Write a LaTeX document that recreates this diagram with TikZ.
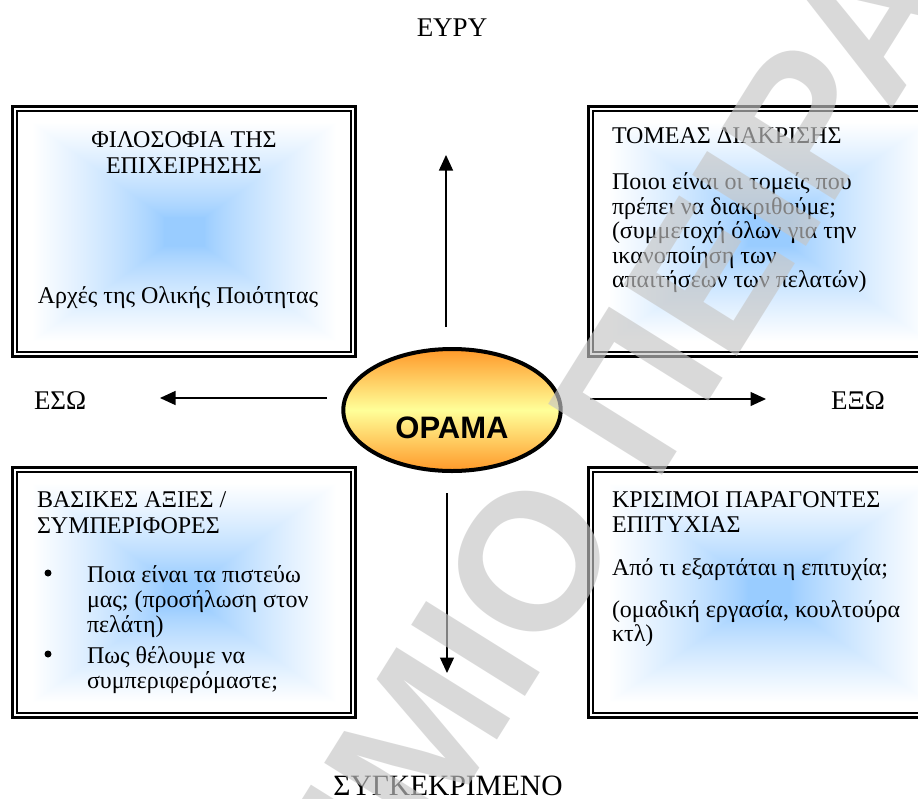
\documentclass[tikz,border=0pt]{standalone}
\usepackage{fontspec}
\setmainfont{Liberation Serif}
\newfontfamily\visionfont{Liberation Sans}
\usetikzlibrary{arrows.meta,shapes.geometric}

\definecolor{visionorange}{RGB}{255,153,41}
\definecolor{visionyellow}{RGB}{255,255,153}
\definecolor{markgray}{RGB}{198,198,198}

% rectangular "from centre" glow: blue core fading to white towards the rim
\pgfdeclarefunctionalshading{boxglow}{\pgfpointorigin}{\pgfpoint{100bp}{100bp}}{}{
  50 sub abs 25 div exch 50 sub abs 25 div
  2 copy sub abs add add 2 div
  0.12 sub 0.8 div
  dup abs add 2 div
  dup 1 sub abs neg add 1 add 2 div
  0.8 exp
  dup 0.4 mul 0.6 add exch 0.2 mul 0.8 add 1
}

\tikzset{
  panel/.style={draw, line width=2.7pt, inner sep=0pt, outer sep=0pt},
  innerline/.style={line width=1.6pt},
  boxtext/.style={font=\fontsize{24}{25}\selectfont, inner sep=0pt, outer sep=0pt},
  axislabel/.style={font=\fontsize{27}{30}\selectfont, inner sep=0pt, outer sep=0pt},
  dot/.style={circle, fill=black, inner sep=0pt, minimum size=7pt},
  arr/.style={line width=1.3pt, -{Triangle[length=15.5pt,width=14pt]}},
  vision/.style={ellipse, draw, line width=4pt, inner sep=0pt, outer sep=0pt,
    minimum width=217.4pt, minimum height=122pt,
    top color=visionorange, bottom color=visionorange, middle color=visionyellow},
  watermark/.style={font=\visionfont\bfseries\fontsize{195}{200}\selectfont,
    text=markgray, text opacity=0.65, inner sep=0pt, outer sep=0pt}
}

\begin{document}
\begin{tikzpicture}[x=1pt,y=-1pt]
\useasboundingbox (0,0) rectangle (918,798);
\clip (0,0) rectangle (918,798);
\fill[white] (0,0) rectangle (918,798);

% four framed panels
\node[panel, minimum width=343.3pt, minimum height=250.3pt] (tlbox) at (184,231.5) {};
\node[panel, minimum width=343.3pt, minimum height=250.3pt] (blbox) at (184,592.5) {};
\node[panel, minimum width=360.3pt, minimum height=250.3pt] (trbox) at (768.5,231.5) {};
\node[panel, minimum width=360.3pt, minimum height=250.3pt] (brbox) at (768.5,592.5) {};

\foreach \b in {tlbox,blbox,trbox,brbox}{
  \shade[shading=boxglow] ([xshift=6pt,yshift=-6pt]\b.north west) rectangle ([xshift=-6pt,yshift=6pt]\b.south east);
  \draw[innerline] ([xshift=4.6pt,yshift=-4.6pt]\b.north west) rectangle ([xshift=-4.6pt,yshift=4.6pt]\b.south east);
}

% top-left panel
\node[boxtext, anchor=base] (tl1) at (184,147) {ΦΙΛΟΣΟΦΙΑ ΤΗΣ};
\node[boxtext, anchor=base] (tl2) at (184,173) {ΕΠΙΧΕΙΡΗΣΗΣ};
\node[boxtext, anchor=base] (tl3) at (178,303) {Αρχές της Ολικής Ποιότητας};

% top-right panel
\node[boxtext, anchor=base west] (tr1) at (612,143.5) {ΤΟΜΕΑΣ ΔΙΑΚΡΙΣΗΣ};
\node[boxtext, anchor=base west] (tr2) at (612,189.5) {Ποιοι είναι οι τομείς που};
\node[boxtext, anchor=base west] (tr3) at (612,214) {πρέπει να διακριθούμε;};
\node[boxtext, anchor=base west] (tr4) at (612,238.5) {(συμμετοχή όλων για την};
\node[boxtext, anchor=base west] (tr5) at (612,263) {ικανοποίηση των};
\node[boxtext, anchor=base west] (tr6) at (612,287.5) {απαιτήσεων των πελατών)};

% bottom-left panel
\node[boxtext, anchor=base west] (bl1) at (37,507) {ΒΑΣΙΚΕΣ ΑΞΙΕΣ /};
\node[boxtext, anchor=base west] (bl2) at (37,533) {ΣΥΜΠΕΡΙΦΟΡΕΣ};
\node[dot] (bullet1) at (48,573) {};
\node[boxtext, anchor=base west] (bl3) at (87,582) {Ποια είναι τα πιστεύω};
\node[boxtext, anchor=base west] (bl4) at (87,607) {μας; (προσήλωση στον};
\node[boxtext, anchor=base west] (bl5) at (87,632) {πελάτη)};
\node[dot] (bullet2) at (48,654) {};
\node[boxtext, anchor=base west] (bl6) at (87,663) {Πως θέλουμε να};
\node[boxtext, anchor=base west] (bl7) at (87,688) {συμπεριφερόμαστε;};

% bottom-right panel
\node[boxtext, anchor=base west] (br1) at (612,507) {ΚΡΙΣΙΜΟΙ ΠΑΡΑΓΟΝΤΕΣ};
\node[boxtext, anchor=base west] (br2) at (612,532.5) {ΕΠΙΤΥΧΙΑΣ};
\node[boxtext, anchor=base west] (br3) at (612,575) {Από τι εξαρτάται η επιτυχία;};
\node[boxtext, anchor=base west] (br4) at (612,617) {(ομαδική εργασία, κουλτούρα};
\node[boxtext, anchor=base west] (br5) at (612,641.5) {κτλ)};

% axis labels
\node[axislabel, anchor=base] (wide) at (452,36) {ΕΥΡΥ};
\node[axislabel, font=\fontsize{29.5}{32}\selectfont, anchor=base] (specific) at (448,795) {ΣΥΓΚΕΚΡΙΜΕΝΟ};
\node[axislabel, anchor=base west] (inward) at (34,409) {ΕΣΩ};
\node[axislabel, anchor=base west] (outward) at (831,409) {ΕΞΩ};

% central vision ellipse
\node[vision] (vision) at (452,410) {};
\node[font=\visionfont\bfseries\fontsize{31}{33}\selectfont, inner sep=0pt, anchor=base] (visiontext) at (452,438.3) {ΟΡΑΜΑ};

% axis arrows
\coordinate (upfrom) at (446,327);   \coordinate (upto) at (446,155);
\coordinate (downfrom) at (447,493); \coordinate (downto) at (447,673);
\coordinate (leftfrom) at (327,398); \coordinate (leftto) at (160,398);
\coordinate (rightfrom) at (590,399);\coordinate (rightto) at (766,399);
\draw[arr] (upfrom) -- (upto);
\draw[arr] (downfrom) -- (downto);
\draw[arr] (leftfrom) -- (leftto);
\draw[arr] (rightfrom) -- (rightto);

% diagonal watermark over everything
\node[watermark, rotate=58, anchor=base west] (stamp) at (432,845) {\llap{ΠΑΝΕΠΙΣΤΗ}ΜΙΟ ΠΕΙΡΑΙΑ};
\end{tikzpicture}
\end{document}
